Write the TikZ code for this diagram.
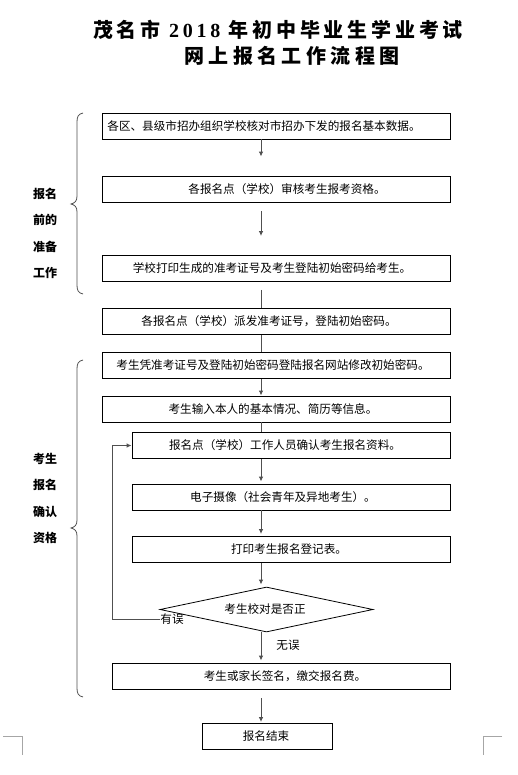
\documentclass[tikz,border=0pt]{standalone}
\usepackage{fontspec}
\setmainfont{Noto Sans CJK SC}
\newfontfamily\titleA[LetterSpace=19]{Noto Sans CJK SC}
\newfontfamily\titleB[LetterSpace=22]{Noto Sans CJK SC}
\newfontfamily\digitfont[LetterSpace=19]{Liberation Serif}
\usetikzlibrary{arrows.meta,shapes.geometric}
\definecolor{lc}{RGB}{80,80,80}
\newcommand\sh[2]{\makebox[0pt]{\hspace*{#1}#2}}
\begin{document}
\begin{tikzpicture}[x=1pt,y=-1pt,
  box/.style={draw=black,line width=0.8pt,minimum height=26pt,inner sep=0pt,font=\fontsize{11.6}{13}\selectfont},
  dec/.style={draw=black,line width=0.8pt,diamond,minimum width=213pt,minimum height=45pt,inner sep=0pt,font=\fontsize{11.6}{13}\selectfont},
  arr/.style={draw=lc,line width=1pt,-{Latex[length=5pt,width=4.5pt]}},
  ln/.style={draw=lc,line width=1pt},
  side/.style={align=center,font=\fontsize{12}{26.3}\selectfont\bfseries},
  lbl/.style={font=\fontsize{11.6}{13}\selectfont,inner sep=0pt},
  brace/.style={draw=lc,line width=0.8pt},
  corner/.style={draw=gray!70,line width=0.7pt}]
\useasboundingbox (0,0) rectangle (518,775);
\fill[white] (0,0) rectangle (518,775);

% title
\node[font=\fontsize{20}{24}\selectfont\bfseries] (t1) at (278,30) {\titleA 茂名市 {\digitfont\bfseries 2018} 年初中毕业生学业考试};
\node[font=\fontsize{20}{24}\selectfont\bfseries] (t2) at (292,56) {\titleB 网上报名工作流程图};

\coordinate (cx) at (261,0);
\coordinate (loopx) at (112,0);

% boxes
\node[box,minimum width=348pt] (b1) at (276,126) {\sh{-24pt}{各区、县级市招办组织学校核对市招办下发的报名基本数据。}};
\node[box,minimum width=348pt] (b2) at (276,189) {\sh{22pt}{各报名点（学校）审核考生报考资格。}};
\node[box,minimum width=348pt] (b3) at (276,268.5) {\sh{-8pt}{学校打印生成的准考证号及考生登陆初始密码给考生。}};
\node[box,minimum width=348pt] (b4) at (276,321.5) {\sh{-14pt}{各报名点（学校）派发准考证号，登陆初始密码。}};
\node[box,minimum width=348pt] (b5) at (276,365.5) {\sh{-6pt}{考生凭准考证号及登陆初始密码登陆报名网站修改初始密码。}};
\node[box,minimum width=348pt] (b6) at (276,409) {\sh{-6pt}{考生输入本人的基本情况、简历等信息。}};
\node[box,minimum width=318pt] (b7) at (291,445.5) {\sh{-12pt}{报名点（学校）工作人员确认考生报名资料。}};
\node[box,minimum width=318pt] (b8) at (291,497) {\sh{-16pt}{电子摄像（社会青年及异地考生）。}};
\node[box,minimum width=318pt] (b9) at (291,549.5) {\sh{-4pt}{打印考生报名登记表。}};
\node[dec] (d) at (266.5,609.5) {\sh{-3pt}{考生校对是否正}};
\node[box,minimum width=338pt] (b10) at (281,676) {\sh{8pt}{考生或家长签名，缴交报名费。}};
\node[box,minimum width=130pt] (b11) at (267,736.5) {\sh{-2pt}{报名结束}};

% labels
\node[lbl] (err) at (172,619) {有误};
\node[lbl] (ok) at (288,645) {无误};

% side labels
\node[side] (s1) at (45,233.5) {报名\\前的\\准备\\工作};
\node[side] (s2) at (45,498.5) {考生\\报名\\确认\\资格};

% connectors
\draw[arr,shorten >=19pt] (b1.south -| cx) -- (b2.north -| cx);
\draw[arr,shorten <=9pt,shorten >=19pt] (b2.south -| cx) -- (b3.north -| cx);
\draw[ln,shorten <=8pt] (b3.south -| cx) -- (b4.north -| cx);
\draw[ln] (b4.south -| cx) -- (b5.north -| cx);
\draw[arr] (b5.south -| cx) -- (b6.north -| cx);
\draw[ln] (b6.south -| cx) -- (b7.north -| cx);
\draw[arr,shorten >=2pt] (b7.south -| cx) -- (b8.north -| cx);
\draw[arr,shorten >=2pt] (b8.south -| cx) -- (b9.north -| cx);
\draw[arr,shorten >=2pt] (b9.south -| cx) -- (d.north -| cx);
\draw[arr,shorten >=2pt] (d.south -| cx) -- (b10.north -| cx);
\draw[arr,shorten <=9pt,shorten >=1pt] (b10.south -| cx) -- (b11.north -| cx);
\draw[arr] (err.west) -| (loopx |- b7.west) -- (b7.west);

% braces
\draw[brace] (83,113) .. controls (78,114) and (77,117) .. (77,122) -- (77,196)
  .. controls (77,201) and (75,203) .. (71,204) .. controls (75,205) and (77,207) .. (77,212)
  -- (77,285) .. controls (77,290) and (78,293) .. (83,294);
\draw[brace] (83,360) .. controls (78,361) and (77,364) .. (77,369) -- (77,520)
  .. controls (77,525) and (75,527) .. (71,528) .. controls (75,529) and (77,531) .. (77,536)
  -- (77,688) .. controls (77,693) and (78,696) .. (83,697);

% corner marks
\draw[corner] (3,736) -- (22,736) -- (22,755);
\draw[corner] (502,736) -- (483,736) -- (483,755);
\end{tikzpicture}
\end{document}
